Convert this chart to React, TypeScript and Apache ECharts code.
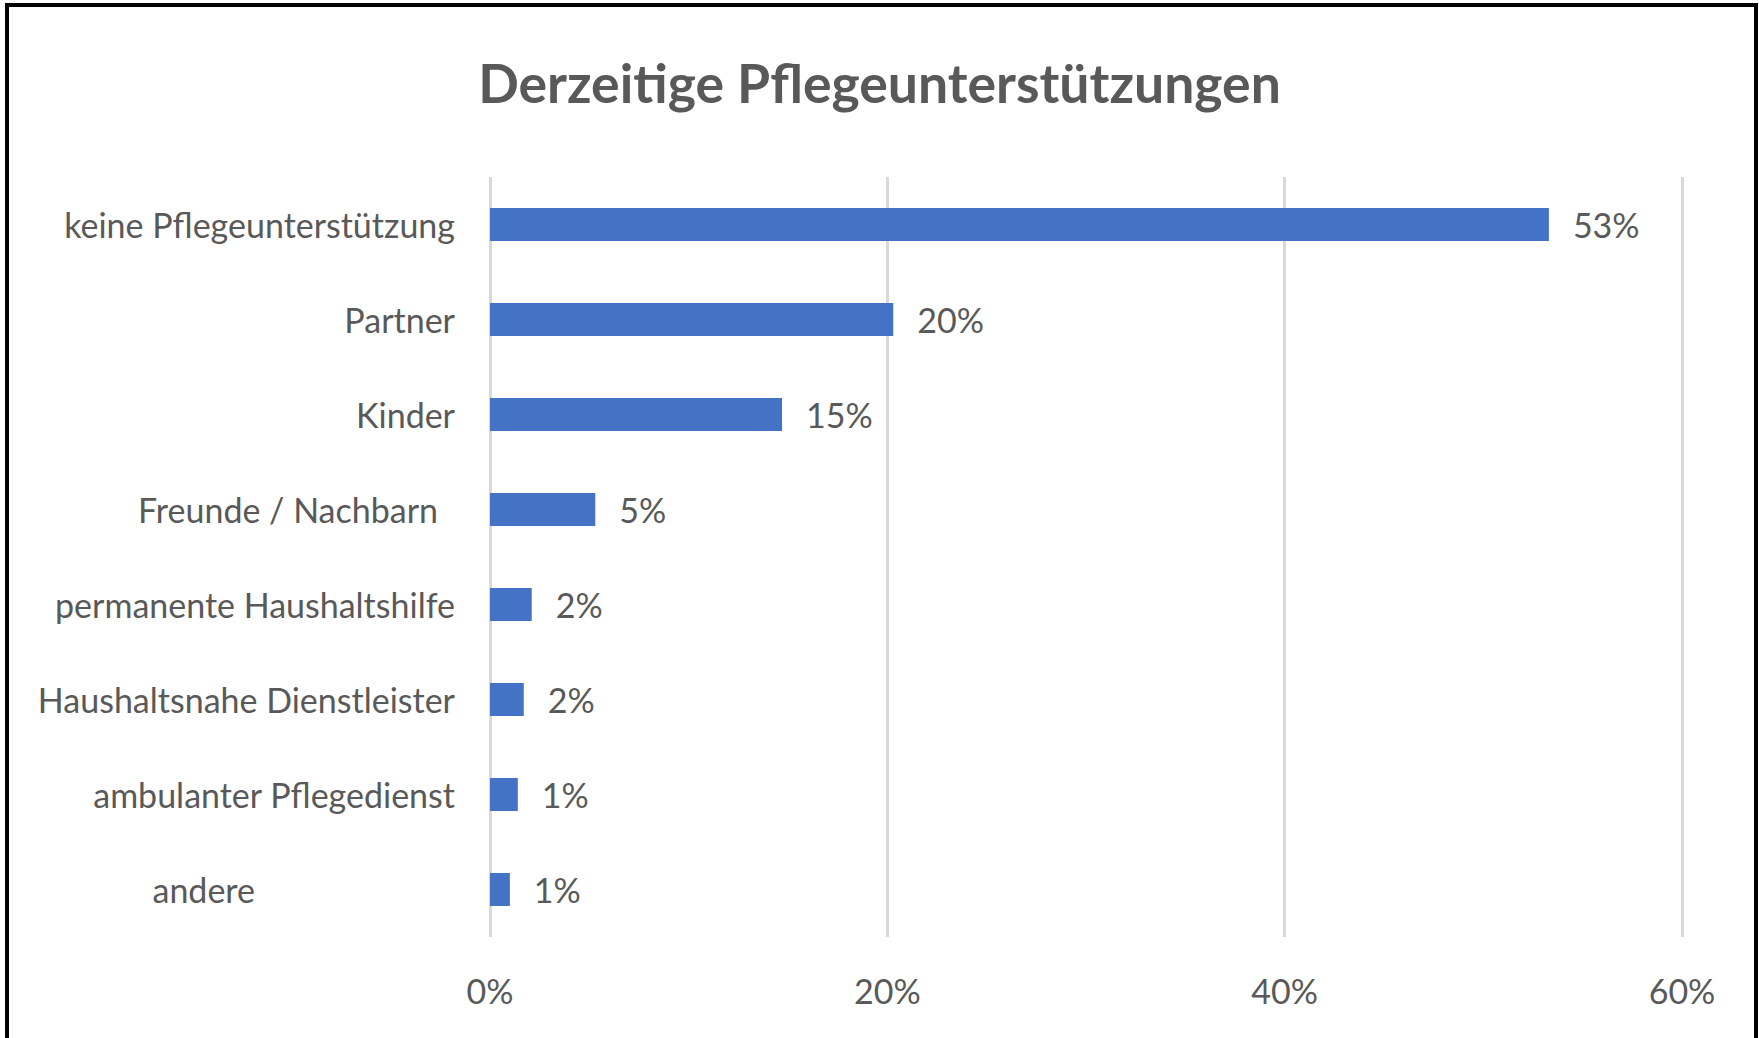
import React, { useEffect, useRef } from "react";
import * as echarts from "echarts";

const TITLE = "Derzeitige Pflegeunterstützungen";
const categories = [
  "keine Pflegeunterstützung",
  "Partner",
  "Kinder",
  "Freunde / Nachbarn",
  "permanente Haushaltshilfe",
  "Haushaltsnahe Dienstleister",
  "ambulanter Pflegedienst",
  "andere",
];
const values = [53.3, 20.3, 14.7, 5.3, 2.1, 1.7, 1.4, 1.0];
const xTicks = [0, 20, 40, 60];

const FONT = "Lato, 'Open Sans', sans-serif";
const TEXT = "#595959";
const FS = 34;

export default function App() {
  const ref = useRef<HTMLDivElement>(null);
  useEffect(() => {
    if (!ref.current) return;
    const chart = echarts.init(ref.current, undefined, { renderer: "svg" });
    chart.setOption({
      animation: false,
      backgroundColor: "#ffffff",
      title: {
        text: TITLE,
        left: "center",
        top: 50,
        textStyle: { fontFamily: FONT, fontSize: 53.5, fontWeight: "bold", color: TEXT },
      },
      grid: { left: 490, right: 77, top: 177, bottom: 101, containLabel: false, outerBoundsMode: "none" },
      xAxis: {
        type: "value",
        min: xTicks[0],
        max: xTicks[xTicks.length - 1],
        interval: xTicks[1] - xTicks[0],
        axisLine: { show: false },
        axisTick: { show: false },
        splitLine: { show: true, lineStyle: { color: "#d9d9d9", width: 3 } },
        axisLabel: {
          formatter: "{value}%",
          fontFamily: FONT,
          fontSize: FS,
          color: TEXT,
          margin: 36,
        },
      },
      yAxis: {
        type: "category",
        inverse: true,
        data: categories,
        axisLine: { show: false },
        axisTick: { show: false },
        axisLabel: {
          fontFamily: FONT,
          fontSize: FS,
          color: TEXT,
          margin: 35,
          formatter: (v: string) => {
            if (v === "andere") return "{padA|" + v + "}";
            if (v === "Freunde / Nachbarn") return "{padF|" + v + "}";
            return v;
          },
          rich: {
            padA: { fontFamily: FONT, fontSize: FS, color: TEXT, padding: [0, 200, 0, 0] },
            padF: { fontFamily: FONT, fontSize: FS, color: TEXT, padding: [0, 17, 0, 0] },
          },
        },
      },
      series: [
        {
          type: "bar",
          data: values,
          barWidth: 33,
          itemStyle: { color: "#4472C4" },
          label: {
            show: true,
            position: "right",
            distance: 24,
            fontFamily: FONT,
            fontSize: FS,
            color: TEXT,
            formatter: (p: any) => Math.round(p.value) + "%",
          },
        },
      ],
      graphic: [
        {
          type: "rect",
          shape: { x: 7, y: 5, width: 1749, height: 1100 },
          style: { fill: "none", stroke: "#000000", lineWidth: 4 },
          silent: true,
        },
      ],
    });
    return () => chart.dispose();
  }, []);
  return (
    <div
      ref={ref}
      style={{ position: "absolute", left: 0, top: 0, width: 1759, height: 1038, background: "#fff" }}
    />
  );
}
